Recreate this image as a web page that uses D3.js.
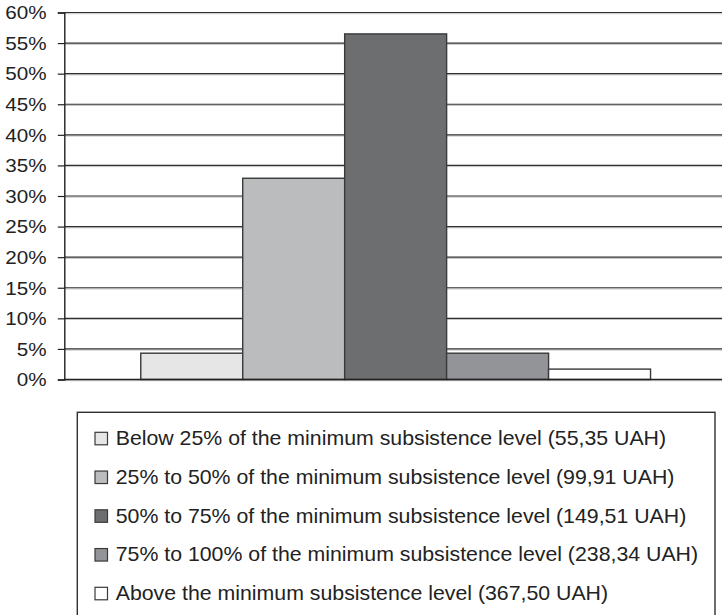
<!DOCTYPE html>
<html>
<head>
<meta charset="utf-8">
<script src="https://cdn.jsdelivr.net/npm/d3@7"></script>
<style>
  html, body { margin: 0; padding: 0; background: #fff; }
  svg { display: block; font-family: "Liberation Sans", Arial, Helvetica, sans-serif; }
</style>
</head>
<body>
<svg id="chart" width="722" height="615"></svg>
<script>
// Share of households by income band (percent)
const categories = ["Households"];
const series = [
  "Below 25% of the minimum subsistence level (55,35 UAH)",
  "25% to 50% of the minimum subsistence level (99,91 UAH)",
  "50% to 75% of the minimum subsistence level (149,51 UAH)",
  "75% to 100% of the minimum subsistence level (238,34 UAH)",
  "Above the minimum subsistence level (367,50 UAH)"
];
const values = [4.3, 32.9, 56.5, 4.3, 1.7];
const yTicks = [0, 5, 10, 15, 20, 25, 30, 35, 40, 45, 50, 55, 60];
const fills = ["#e6e6e7", "#bbbcbe", "#6d6e70", "#939497", "#ffffff"];

const svg = d3.select("#chart");
const plot = { left: 64.3, right: 727, top: 12.5, bottom: 379.5 };

const y = d3.scaleLinear().domain([0, 60]).range([plot.bottom, plot.top]);
const x0 = d3.scaleBand().domain(categories).range([plot.left, plot.right])
  .paddingInner(0).paddingOuter(0.15);
const x1 = d3.scaleBand().domain(series).range([0, x0.bandwidth()]).padding(0);

// horizontal gridlines with a faint shadow under each
const grid = svg.append("g");
yTicks.forEach(t => {
  grid.append("line")
    .attr("x1", plot.left).attr("x2", plot.right)
    .attr("y1", y(t) + 1.2).attr("y2", y(t) + 1.2)
    .attr("stroke", "#c4c4c4").attr("stroke-width", 1);
  grid.append("line")
    .attr("x1", plot.left).attr("x2", plot.right)
    .attr("y1", y(t)).attr("y2", y(t))
    .attr("stroke", "#2f2f2f").attr("stroke-width", 1.2);
});

// bars
svg.append("g").selectAll("rect")
  .data(series.map((s, i) => ({ s, v: values[i], c: fills[i] })))
  .join("rect")
  .attr("x", d => x0(categories[0]) + x1(d.s))
  .attr("y", d => y(d.v))
  .attr("width", x1.bandwidth())
  .attr("height", d => y(0) - y(d.v))
  .attr("fill", d => d.c)
  .attr("stroke", "#3a3a3a")
  .attr("stroke-width", 1.4);

// y axis
const yAxis = d3.axisLeft(y).tickValues(yTicks).tickSize(6.5).tickPadding(10)
  .tickFormat(d => d + "%");
const ya = svg.append("g").attr("transform", `translate(${plot.left},0)`).call(yAxis);
ya.select(".domain").attr("stroke", "#222").attr("stroke-width", 1.4);
ya.selectAll(".tick line").attr("stroke", "#222").attr("stroke-width", 1.2);
ya.selectAll(".tick text")
  .attr("fill", "#222")
  .attr("font-size", 17.5)
  .attr("dy", "0.36em")
  .attr("transform", "scale(1.18,1)")
  .attr("x", -16.5 / 1.18 - 1);
// bottom baseline
svg.append("line")
  .attr("x1", plot.left).attr("x2", plot.right)
  .attr("y1", y(0)).attr("y2", y(0))
  .attr("stroke", "#222").attr("stroke-width", 1.4);

// legend
const lg = { x: 77.3, y: 412.3, w: 637.7, h: 230, row0: 445, step: 38.75 };
svg.append("rect")
  .attr("x", lg.x).attr("y", lg.y).attr("width", lg.w).attr("height", lg.h)
  .attr("fill", "none").attr("stroke", "#2f2f2f").attr("stroke-width", 1.4);
const items = svg.append("g").selectAll("g")
  .data(series.map((s, i) => ({ s, c: fills[i], i })))
  .join("g")
  .attr("transform", d => `translate(0,${lg.row0 + d.i * lg.step})`);
items.append("rect")
  .attr("x", 95).attr("y", -12.7).attr("width", 12.5).attr("height", 12.5)
  .attr("fill", d => d.c).attr("stroke", "#3a3a3a").attr("stroke-width", 1.2);
items.append("text")
  .attr("transform", "translate(115.7,0) scale(1.065,1)")
  .attr("font-size", 20)
  .attr("fill", "#222")
  .text(d => d.s);
</script>
</body>
</html>
